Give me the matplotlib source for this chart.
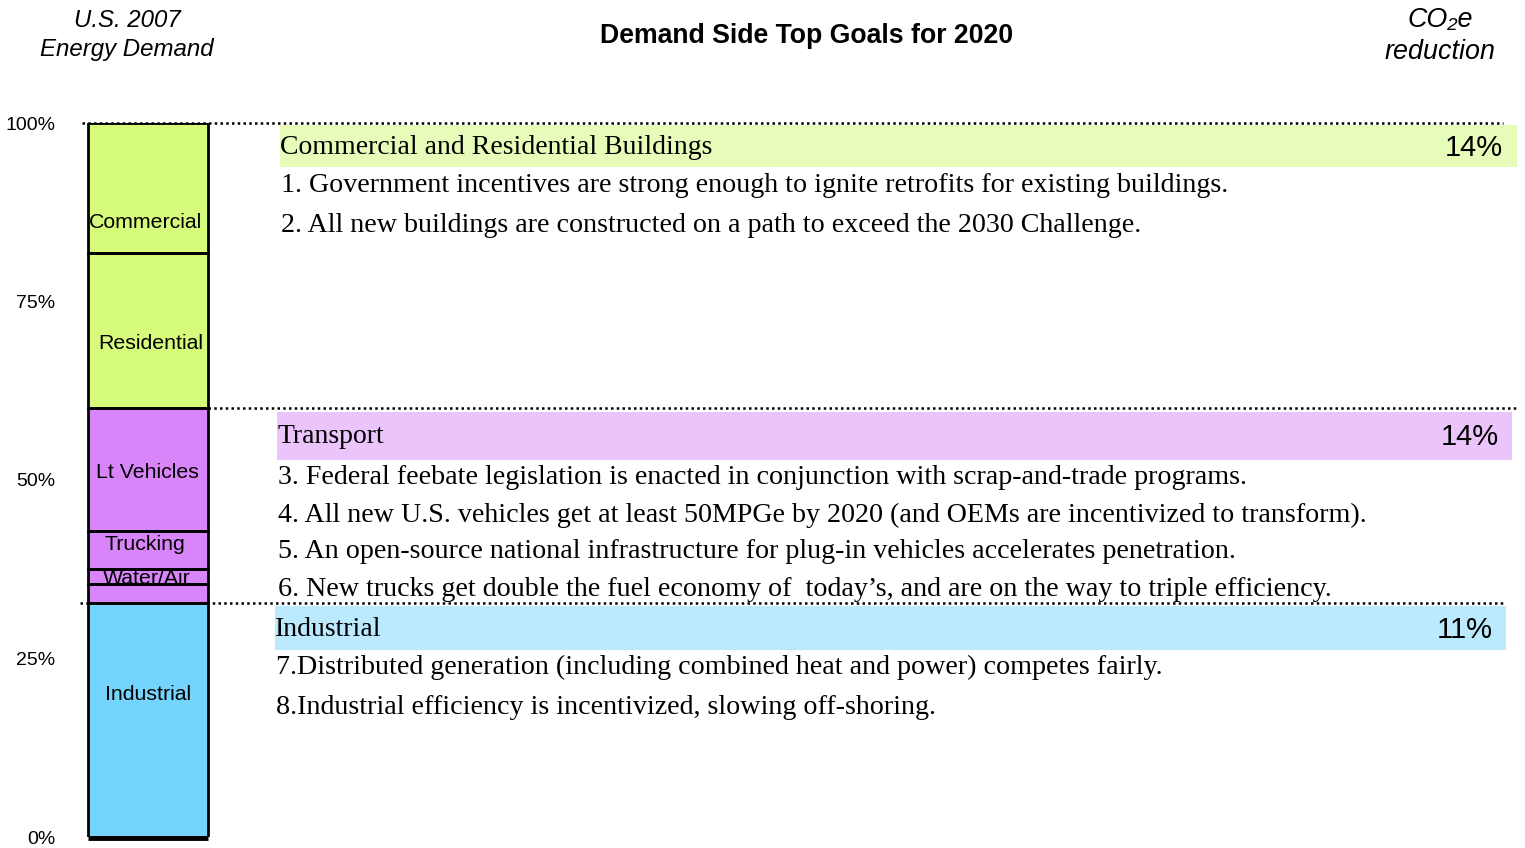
import matplotlib.pyplot as plt
import numpy as np

# U.S. 2007 energy demand shares (percent), bottom to top
segments = ['Industrial', '', 'Water/Air', 'Trucking', 'Lt Vehicles', 'Residential', 'Commercial']
shares = [32.8, 2.7, 2.1, 5.3, 17.2, 21.7, 18.2]
sectors = ['industrial', 'transport', 'transport', 'transport', 'transport', 'buildings', 'buildings']

# goals per sector and their CO2e reduction
group_titles = ['Commercial and Residential Buildings', 'Transport', 'Industrial']
group_reduction = ['14%', '14%', '11%']
group_goals = [
    ['1. Government incentives are strong enough to ignite retrofits for existing buildings.',
     '2. All new buildings are constructed on a path to exceed the 2030 Challenge.'],
    ['3. Federal feebate legislation is enacted in conjunction with scrap-and-trade programs.',
     '4. All new U.S. vehicles get at least 50MPGe by 2020 (and OEMs are incentivized to transform).',
     '5. An open-source national infrastructure for plug-in vehicles accelerates penetration.',
     '6. New trucks get double the fuel economy of  today\u2019s, and are on the way to triple efficiency.'],
    ['7.Distributed generation (including combined heat and power) competes fairly.',
     '8.Industrial efficiency is incentivized, slowing off-shoring.'],
]

yticks = [0, 25, 50, 75, 100]

bar_colors = {'industrial': '#74d4fd', 'transport': '#d785f9', 'buildings': '#d6fa7a'}
band_colors = ['#e7fcb9', '#ebc4fb', '#bbe9fd']

SANS = 'Liberation Sans'
SERIF = 'Liberation Serif'

fig = plt.figure(figsize=(15.25, 8.48), dpi=100)
ax = fig.add_axes([0, 11 / 848, 1, 714 / 848])
ax.set_xlim(0, 1525)
ax.set_ylim(0, 100)
for s in ax.spines.values():
    s.set_visible(False)
ax.set_xticks([])
ax.set_yticks(yticks)
ax.set_yticklabels([f'{t}%' for t in yticks], fontfamily=SANS, fontsize=14)
ax.tick_params(axis='y', length=0, pad=-39.6)


def py(p):
    # pixel row -> percent on the bar scale
    return (837 - p) / 714 * 100


# stacked bar
bottoms = np.concatenate([[0], np.cumsum(shares)[:-1]])
cols = [bar_colors[s] for s in sectors]
ax.bar(148, shares, bottom=bottoms, width=120, color=cols, zorder=2)
ax.bar(148, shares, bottom=bottoms, width=120, fill=False, edgecolor='black',
       linewidth=2, zorder=4)
ax.plot([88, 208], [-0.15, -0.15], color='black', lw=3.5, solid_capstyle='butt',
        clip_on=False, zorder=4)

label_y = [py(695), None, py(579), py(545), py(472), py(344), py(222)]
label_x = [148, None, 147, 145, 147, 151, 145]
for name, x, y in zip(segments, label_x, label_y):
    if name:
        ax.text(x, y, name, ha='center', va='center', fontfamily=SANS,
                fontsize=15.3, zorder=3)

# dotted separators at sector boundaries
total = sum(shares)
transport_top = total - shares[5] - shares[6]
industrial_top = shares[0]
dot = dict(color='black', lw=1.8, linestyle=(0, (1, 1.3)), zorder=5, clip_on=False)
ax.plot([82, 1503], [total, total], **dot)
ax.plot([208, 1517], [transport_top, transport_top], **dot)
ax.plot([80, 1503], [industrial_top, industrial_top], **dot)

# highlighted sector headings
bands = [(280, 1517, py(167), py(125)), (277, 1512, py(460), py(412)), (275, 1506, py(650), py(606))]
head_y = [py(148), py(437), py(629)]
pct_x = [1503, 1499, 1493]
pct_y = [py(148), py(437), py(630)]
goal_y = [[py(186), py(226)],
          [py(477), py(515), py(552), py(589)],
          [py(667), py(707)]]

for i, (x0, x1, y0, y1) in enumerate(bands):
    ax.fill_between([x0, x1], y0, y1, color=band_colors[i], lw=0, zorder=1)
    ax.text(x0, head_y[i], group_titles[i], ha='left', va='center',
            fontfamily=SERIF, fontsize=20, zorder=3)
    ax.text(pct_x[i], pct_y[i], group_reduction[i], ha='right', va='center',
            fontfamily=SANS, fontsize=21, zorder=3)
    for g, gy in zip(group_goals[i], goal_y[i]):
        ax.text(x0 + 1, gy, g, ha='left', va='center', fontfamily=SERIF,
                fontsize=20.2, zorder=3)

# headers
fig.text(127 / 1525, 1 - 35 / 848, 'U.S. 2007\nEnergy Demand', ha='center', va='center',
         fontfamily=SANS, fontstyle='italic', fontsize=17.3, linespacing=1.32)
fig.text(807 / 1525, 1 - 36 / 848, 'Demand Side Top Goals for 2020', ha='center',
         va='center', fontfamily=SANS, fontweight='bold', fontsize=19.2)
fig.text(1440 / 1525, 1 - 36 / 848, 'CO\u2082e\nreduction', ha='center', va='center',
         fontfamily=SANS, fontstyle='italic', fontsize=19.4, linespacing=1.3)

fig.savefig('out.png', dpi=100)
